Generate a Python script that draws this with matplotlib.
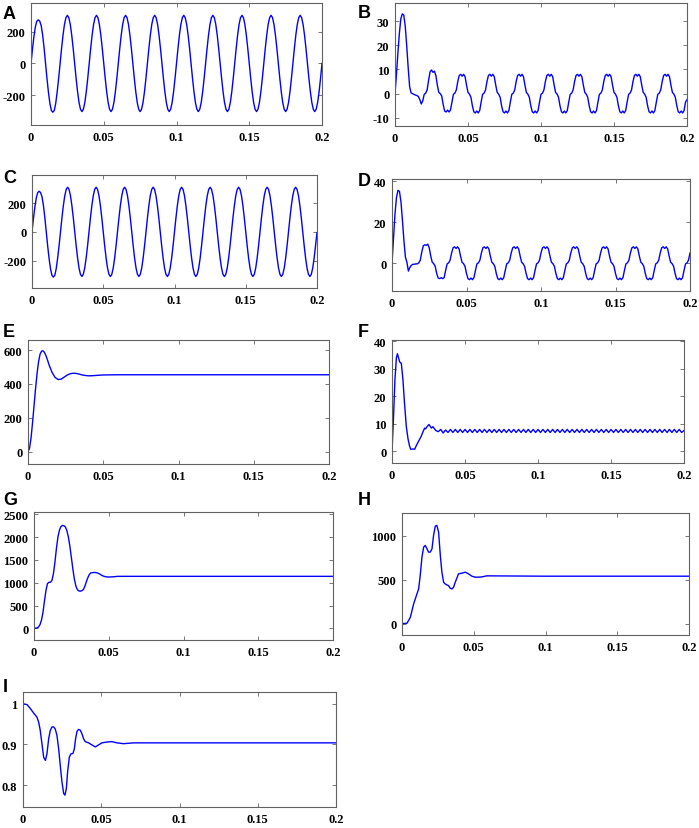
"""Nine stacked simulation traces (A-I), MATLAB-style panels."""
import matplotlib

matplotlib.use("Agg")
import matplotlib.pyplot as plt
import numpy as np

# ---------------------------------------------------------------- data
# sample times (s) for the periodic traces A-D: one sample per ms
T_GRID = np.round(np.arange(201) * 0.001, 3)

A_VALUES = [
    0, 90, 170, 232, 268, 276, 268, 240, 180, 98, 0, -97, -184, -254, -298, -309, -298, -252, -180, -95,
    0, 94, 179, 247, 290, 305, 290, 247, 179, 94, 0, -94, -179, -247, -290, -305, -290, -247, -179, -94,
    0, 94, 179, 247, 290, 305, 290, 247, 179, 94, 0, -94, -179, -247, -290, -305, -290, -247, -179, -94,
    0, 94, 179, 247, 290, 305, 290, 247, 179, 94, 0, -94, -179, -247, -290, -305, -290, -247, -179, -94,
    0, 94, 179, 247, 290, 305, 290, 247, 179, 94, 0, -94, -179, -247, -290, -305, -290, -247, -179, -94,
    0, 94, 179, 247, 290, 305, 290, 247, 179, 94, 0, -94, -179, -247, -290, -305, -290, -247, -179, -94,
    0, 94, 179, 247, 290, 305, 290, 247, 179, 94, 0, -94, -179, -247, -290, -305, -290, -247, -179, -94,
    0, 94, 179, 247, 290, 305, 290, 247, 179, 94, 0, -94, -179, -247, -290, -305, -290, -247, -179, -94,
    0, 94, 179, 247, 290, 305, 290, 247, 179, 94, 0, -94, -179, -247, -290, -305, -290, -247, -179, -94,
    0, 94, 179, 247, 290, 305, 290, 247, 179, 94, 0, -94, -179, -247, -290, -305, -290, -247, -179, -94,
    0,
]

B_VALUES = [
    0, 8, 17, 25, 31, 33, 32.5, 28, 20, 11, 3, 0.3, 0, -0.3, -0.6, -0.8, -1.2, -2.5, -4.3, -3.0,
    -0.3, 0.2, 1.5, 5.5, 9.0, 9.8, 8.8, 9.3, 7.5, 3.5, 0.5, 0.0, -1.0, -4.5, -7.2, -7.6, -6.8, -7.6, -6.8, -3.5,
    -0.3, 0.2, 1.5, 5.0, 7.5, 8.0, 7.2, 8.0, 7.0, 3.5, 0.5, -0.2, -1.5, -5.0, -7.5, -8.0, -7.2, -8.0, -7.0, -3.5,
    -0.3, 0.2, 1.5, 5.0, 7.5, 8.0, 7.2, 8.0, 7.0, 3.5, 0.5, -0.2, -1.5, -5.0, -7.5, -8.0, -7.2, -8.0, -7.0, -3.5,
    -0.3, 0.2, 1.5, 5.0, 7.5, 8.0, 7.2, 8.0, 7.0, 3.5, 0.5, -0.2, -1.5, -5.0, -7.5, -8.0, -7.2, -8.0, -7.0, -3.5,
    -0.3, 0.2, 1.5, 5.0, 7.5, 8.0, 7.2, 8.0, 7.0, 3.5, 0.5, -0.2, -1.5, -5.0, -7.5, -8.0, -7.2, -8.0, -7.0, -3.5,
    -0.3, 0.2, 1.5, 5.0, 7.5, 8.0, 7.2, 8.0, 7.0, 3.5, 0.5, -0.2, -1.5, -5.0, -7.5, -8.0, -7.2, -8.0, -7.0, -3.5,
    -0.3, 0.2, 1.5, 5.0, 7.5, 8.0, 7.2, 8.0, 7.0, 3.5, 0.5, -0.2, -1.5, -5.0, -7.5, -8.0, -7.2, -8.0, -7.0, -3.5,
    -0.3, 0.2, 1.5, 5.0, 7.5, 8.0, 7.2, 8.0, 7.0, 3.5, 0.5, -0.2, -1.5, -5.0, -7.5, -8.0, -7.2, -8.0, -7.0, -3.5,
    -0.3, 0.2, 1.5, 5.0, 7.5, 8.0, 7.2, 8.0, 7.0, 3.5, 0.5, -0.2, -1.5, -5.0, -7.5, -8.0, -7.2, -8.0, -7.0, -3.5,
    -2.5,
]

C_VALUES = [
    0, 92, 172, 236, 273, 282, 273, 245, 185, 100, 0, -98, -186, -257, -302, -314, -302, -255, -182, -96,
    0, 96, 182, 251, 295, 310, 295, 251, 182, 96, 0, -96, -182, -251, -295, -310, -295, -251, -182, -96,
    0, 96, 182, 251, 295, 310, 295, 251, 182, 96, 0, -96, -182, -251, -295, -310, -295, -251, -182, -96,
    0, 96, 182, 251, 295, 310, 295, 251, 182, 96, 0, -96, -182, -251, -295, -310, -295, -251, -182, -96,
    0, 96, 182, 251, 295, 310, 295, 251, 182, 96, 0, -96, -182, -251, -295, -310, -295, -251, -182, -96,
    0, 96, 182, 251, 295, 310, 295, 251, 182, 96, 0, -96, -182, -251, -295, -310, -295, -251, -182, -96,
    0, 96, 182, 251, 295, 310, 295, 251, 182, 96, 0, -96, -182, -251, -295, -310, -295, -251, -182, -96,
    0, 96, 182, 251, 295, 310, 295, 251, 182, 96, 0, -96, -182, -251, -295, -310, -295, -251, -182, -96,
    0, 96, 182, 251, 295, 310, 295, 251, 182, 96, 0, -96, -182, -251, -295, -310, -295, -251, -182, -96,
    0, 96, 182, 251, 295, 310, 295, 251, 182, 96, 0, -96, -182, -251, -295, -310, -295, -251, -182, -96,
    -5,
]

D_VALUES = [
    0, 12, 24, 32, 35.5, 35, 30, 21, 11, 3, 0.5, -3.8, -2.0, -1.0, -0.5, -0.5, -0.3, -0.3, 0.2, 1.5,
    5.5, 8.5, 9.0, 8.7, 9.3, 7.5, 3.5, 0.5, -0.2, -1.5, -5.0, -7.2, -7.5, -7.0, -7.5, -7.0, -3.5, -0.3, 0.2, 1.5,
    5.0, 7.5, 8.0, 7.2, 8.0, 7.0, 3.5, 0.5, -0.2, -1.5, -5.0, -7.5, -8.0, -7.2, -8.0, -7.0, -3.5, -0.3, 0.2, 1.5,
    5.0, 7.5, 8.0, 7.2, 8.0, 7.0, 3.5, 0.5, -0.2, -1.5, -5.0, -7.5, -8.0, -7.2, -8.0, -7.0, -3.5, -0.3, 0.2, 1.5,
    5.0, 7.5, 8.0, 7.2, 8.0, 7.0, 3.5, 0.5, -0.2, -1.5, -5.0, -7.5, -8.0, -7.2, -8.0, -7.0, -3.5, -0.3, 0.2, 1.5,
    5.0, 7.5, 8.0, 7.2, 8.0, 7.0, 3.5, 0.5, -0.2, -1.5, -5.0, -7.5, -8.0, -7.2, -8.0, -7.0, -3.5, -0.3, 0.2, 1.5,
    5.0, 7.5, 8.0, 7.2, 8.0, 7.0, 3.5, 0.5, -0.2, -1.5, -5.0, -7.5, -8.0, -7.2, -8.0, -7.0, -3.5, -0.3, 0.2, 1.5,
    5.0, 7.5, 8.0, 7.2, 8.0, 7.0, 3.5, 0.5, -0.2, -1.5, -5.0, -7.5, -8.0, -7.2, -8.0, -7.0, -3.5, -0.3, 0.2, 1.5,
    5.0, 7.5, 8.0, 7.2, 8.0, 7.0, 3.5, 0.5, -0.2, -1.5, -5.0, -7.5, -8.0, -7.2, -8.0, -7.0, -3.5, -0.3, 0.2, 1.5,
    5.0, 7.5, 8.0, 7.2, 8.0, 7.0, 3.5, 0.5, -0.2, -1.5, -5.0, -7.5, -8.0, -7.2, -8.0, -7.0, -3.5, -0.3, 0.2, 1.5,
    5.0,
]

E_TIMES = [0, 0.001, 0.002, 0.003, 0.004, 0.005, 0.006, 0.007, 0.008, 0.009, 0.010,
           0.011, 0.012, 0.013, 0.014, 0.016, 0.018, 0.020, 0.022, 0.024, 0.026,
           0.028, 0.030, 0.032, 0.034, 0.036, 0.038, 0.040, 0.042, 0.045, 0.050,
           0.060, 0.100, 0.150, 0.200]
E_VALUES = [0, 20, 80, 170, 270, 370, 460, 530, 575, 593, 595,
            585, 565, 540, 512, 468, 438, 426, 428, 440, 452,
            460, 463, 462, 458, 453, 450, 448, 448, 450, 453,
            454, 454, 454, 454]

F_TRANSIENT_TIMES = [0, 0.001, 0.002, 0.003, 0.0037, 0.0045, 0.0053, 0.0064, 0.0075,
                     0.0085, 0.0098, 0.011, 0.012, 0.0128, 0.0145, 0.0155, 0.017,
                     0.019, 0.020, 0.0215, 0.0224, 0.023, 0.024, 0.0253, 0.027,
                     0.028, 0.030]
F_TRANSIENT_VALUES = [0, 12, 26, 34, 35.5, 34, 32.5, 32, 26,
                      18, 9, 4.5, 2, 0.8, 0.9, 0.8, 2.5,
                      4.5, 5.5, 7.5, 8.5, 8.2, 9.0, 9.8, 8.5,
                      9.0, 7.6]
# 300 Hz ripple after the transient: one sample per ripple half-period
F_RIPPLE_TIMES = np.round(0.0317 + np.arange(102) / 600.0, 5)
F_RIPPLE_VALUES = [
    7.2, 8.0, 6.7, 7.8, 6.9, 8.0, 6.9, 8.0, 6.9, 8.0,
    6.9, 8.0, 6.9, 8.0, 6.9, 8.0, 6.9, 8.0, 6.9, 8.0,
    6.9, 8.0, 6.9, 8.0, 6.9, 8.0, 6.9, 8.0, 6.9, 8.0,
    6.9, 8.0, 6.9, 8.0, 6.9, 8.0, 6.9, 8.0, 6.9, 8.0,
    6.9, 8.0, 6.9, 8.0, 6.9, 8.0, 6.9, 8.0, 6.9, 8.0,
    6.9, 8.0, 6.9, 8.0, 6.9, 8.0, 6.9, 8.0, 6.9, 8.0,
    6.9, 8.0, 6.9, 8.0, 6.9, 8.0, 6.9, 8.0, 6.9, 8.0,
    6.9, 8.0, 6.9, 8.0, 6.9, 8.0, 6.9, 8.0, 6.9, 8.0,
    6.9, 8.0, 6.9, 8.0, 6.9, 8.0, 6.9, 8.0, 6.9, 8.0,
    6.9, 8.0, 6.9, 8.0, 6.9, 8.0, 6.9, 8.0, 6.9, 8.0,
    6.9, 7.6,
]

G_TIMES = [0, 0.002, 0.003, 0.004, 0.005, 0.006, 0.007, 0.008, 0.009, 0.010,
           0.011, 0.012, 0.013, 0.014, 0.015, 0.016, 0.017, 0.018, 0.019, 0.020,
           0.021, 0.022, 0.023, 0.024, 0.025, 0.026, 0.027, 0.028, 0.029, 0.030,
           0.031, 0.032, 0.033, 0.034, 0.035, 0.036, 0.037, 0.038, 0.040, 0.042,
           0.044, 0.046, 0.048, 0.050, 0.053, 0.056, 0.060, 0.100, 0.200]
G_VALUES = [0, 10, 30, 80, 180, 350, 600, 830, 980, 1010,
            1010, 1050, 1200, 1450, 1750, 2000, 2150, 2230, 2255, 2250,
            2220, 2140, 2000, 1800, 1550, 1300, 1080, 930, 850, 820,
            815, 825, 850, 920, 1020, 1110, 1180, 1215, 1225, 1220,
            1190, 1150, 1130, 1125, 1130, 1140, 1140, 1140, 1140]

H_TIMES = [0, 0.0035, 0.0058, 0.0081, 0.0104, 0.0116, 0.0127, 0.0139, 0.0151, 0.0162,
           0.0174, 0.0185, 0.0197, 0.0209, 0.0220, 0.0232, 0.0243, 0.0255, 0.0267, 0.0278,
           0.0290, 0.0301, 0.0313, 0.0324, 0.0336, 0.0348, 0.0359, 0.0371, 0.0394, 0.0417,
           0.0440, 0.0463, 0.0487, 0.0510, 0.0533, 0.0556, 0.0590, 0.1000, 0.2000]
H_VALUES = [0, 5, 72, 224, 338, 395, 548, 757, 871, 890,
            852, 814, 814, 852, 1004, 1110, 1118, 1042, 776, 586,
            471, 452, 441, 433, 403, 395, 414, 471, 567, 574,
            586, 567, 540, 529, 529, 532, 544, 540, 540]

I_TIMES = [0, 0.0026, 0.0047, 0.0068, 0.0089, 0.0100, 0.0110, 0.0121, 0.0132, 0.0143,
           0.0153, 0.0164, 0.0174, 0.0185, 0.0196, 0.0206, 0.0217, 0.0228, 0.0238, 0.0249,
           0.0260, 0.0268, 0.0277, 0.0285, 0.0296, 0.0306, 0.0319, 0.0328, 0.0336, 0.0345,
           0.0355, 0.0366, 0.0377, 0.0387, 0.0398, 0.0419, 0.0440, 0.0462, 0.0483, 0.0504,
           0.0536, 0.0568, 0.0600, 0.0643, 0.0706, 0.1000, 0.2000]
I_VALUES = [1.0, 0.9975, 0.988, 0.977, 0.967, 0.955, 0.935, 0.902, 0.869, 0.861,
            0.877, 0.914, 0.934, 0.943, 0.943, 0.938, 0.922, 0.889, 0.849, 0.808,
            0.780, 0.776, 0.792, 0.833, 0.869, 0.877, 0.878, 0.889, 0.914, 0.932,
            0.937, 0.935, 0.926, 0.914, 0.907, 0.904, 0.899, 0.894, 0.899, 0.904,
            0.906, 0.907, 0.904, 0.902, 0.904, 0.904, 0.904]

X_TICKS = [0, 0.05, 0.1, 0.15, 0.2]
X_TICK_LABELS = ["0", "0.05", "0.1", "0.15", "0.2"]

# ---------------------------------------------------------------- layout
FIG_W, FIG_H = 699, 829
LINE_COLOR = "#0000ff"
FRAME_COLOR = "0.38"

# panel letter, axes box in pixels (left, top, right, bottom), ylim, yticks, letter pos (x, baseline)
PANELS = [
    ("A", (31, 4, 322, 126), (-390, 383), [-200, 0, 200], (3, 19)),
    ("B", (395, 4, 687, 127), (-13.4, 37.5), [-10, 0, 10, 20, 30], (358, 18)),
    ("C", (32, 176, 317, 289), (-390, 395), [-200, 0, 200], (3, 183)),
    ("D", (392, 180, 690, 292), (-13.5, 41), [0, 20, 40], (358, 186)),
    ("E", (28, 341, 329, 465), (-72, 659), [0, 200, 400, 600], (3, 337)),
    ("F", (392, 341, 684, 464), (-4.2, 40.5), [0, 10, 20, 30, 40], (358, 337)),
    ("G", (34, 513, 333, 641), (-255, 2550), [0, 500, 1000, 1500, 2000, 2500], (3, 505)),
    ("H", (402, 514, 689, 636), (-129, 1259), [0, 500, 1000], (358, 505)),
    ("I", (23, 693, 336, 808), (0.747, 1.0285), [0.8, 0.9, 1.0], (3, 692)),
]


def series():
    f_t = np.concatenate([F_TRANSIENT_TIMES, F_RIPPLE_TIMES])
    f_v = np.concatenate([F_TRANSIENT_VALUES, F_RIPPLE_VALUES])
    return {
        "A": (T_GRID, A_VALUES),
        "B": (T_GRID, B_VALUES),
        "C": (T_GRID, C_VALUES),
        "D": (T_GRID, D_VALUES),
        "E": (E_TIMES, E_VALUES),
        "F": (f_t, f_v),
        "G": (G_TIMES, G_VALUES),
        "H": (H_TIMES, H_VALUES),
        "I": (I_TIMES, I_VALUES),
    }


def main():
    plt.rcParams["axes.unicode_minus"] = False
    fig = plt.figure(figsize=(FIG_W / 100, FIG_H / 100), dpi=100)
    data = series()

    for letter, (l, t, r, b), ylim, yticks, (lx, ly) in PANELS:
        ax = fig.add_axes([l / FIG_W, 1 - b / FIG_H, (r - l) / FIG_W, (b - t) / FIG_H])
        xs, ys = data[letter]
        ax.plot(xs, ys, color=LINE_COLOR, lw=1.0)
        ax.set_xlim(0, 0.2)
        ax.set_ylim(*ylim)
        ax.set_xticks(X_TICKS)
        ax.set_xticklabels(X_TICK_LABELS)
        ax.set_yticks(yticks)
        ax.set_yticklabels(["%g" % v for v in yticks])
        for lab in ax.get_xticklabels() + ax.get_yticklabels():
            lab.set_family("Liberation Serif")
            lab.set_fontweight("bold")
            lab.set_fontsize(9)
        ax.tick_params(direction="in", top=True, right=True, length=3, width=0.6,
                       color=FRAME_COLOR)
        ax.tick_params(axis="x", pad=4.5)
        ax.tick_params(axis="y", pad=4)
        for sp in ax.spines.values():
            sp.set_color(FRAME_COLOR)
            sp.set_linewidth(0.8)

        fig.text(lx / FIG_W, 1 - ly / FIG_H, letter, family="Liberation Sans",
                 fontweight="bold", fontsize=13, ha="left", va="baseline")

    fig.savefig("out.png", dpi=100)


if __name__ == "__main__":
    main()
